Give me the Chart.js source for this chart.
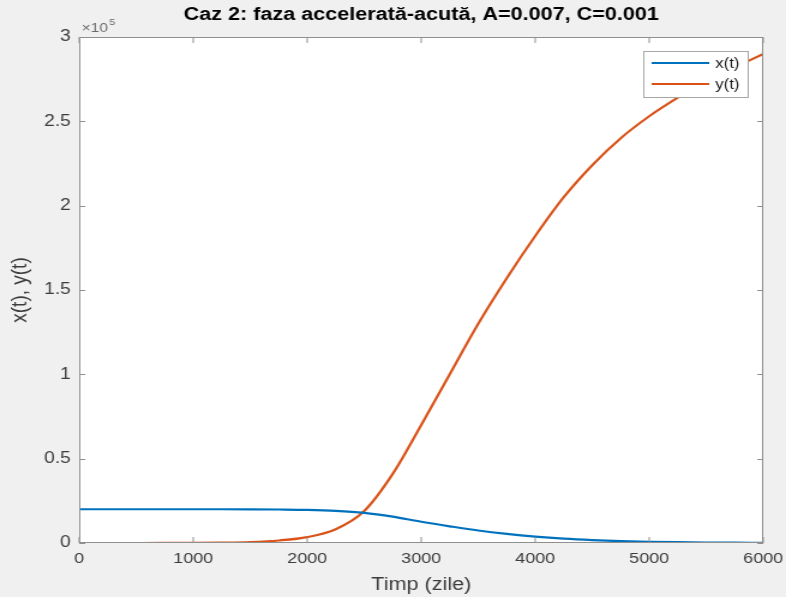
<!DOCTYPE html>
<html>
<head>
<meta charset="utf-8">
<script src="https://cdn.jsdelivr.net/npm/chart.js@4.4.1/dist/chart.umd.min.js"></script>
<style>
  html, body { margin: 0; padding: 0; background: #f0f0f0; }
  canvas { display: block; }
</style>
</head>
<body>
<!-- the drawing surface is rendered narrower and widened on screen, giving the wide lettering -->
<canvas id="chart" width="655" height="597" style="width:786px;height:597px"></canvas>
<script>
// Time axis (days) and the two model populations
const timeDays = [0, 250, 500, 750, 1000, 1250, 1500, 1750, 2000, 2250, 2500, 2750, 3000,
                  3250, 3500, 3750, 4000, 4250, 4500, 4750, 5000, 5250, 5500, 5750, 6000];
const xSeries = [20000, 20000, 20000, 20000, 20000, 20000, 19950, 19850, 19650, 19100, 17900, 15600, 12600,
                 9900, 7400, 5400, 3800, 2600, 1750, 1150, 750, 480, 300, 190, 120];
const ySeries = [0, 0, 10, 30, 90, 250, 600, 1500, 3500, 8200, 19000, 41000, 70000,
                 100000, 130000, 157000, 182000, 205000, 224000, 240000, 253000, 264000, 274000, 282000, 290000];

const seriesNames = ['x(t)', 'y(t)'];
const xTickValues = [0, 1000, 2000, 3000, 4000, 5000, 6000];
const yTickValues = [0, 50000, 100000, 150000, 200000, 250000, 300000];
const yExponent = 5;

const chartTitle = 'Caz 2: faza accelerată-acută, A=0.007, C=0.001';
const xAxisTitle = 'Timp (zile)';
const yAxisTitle = 'x(t), y(t)';

const FONT = '"Liberation Sans", Arial, Helvetica, sans-serif';
const AXIS_GRAY = '#8f8f8f';
const TEXT_GRAY = '#3c3c3c';

const toPoints = (ys) => timeDays.map((t, i) => ({ x: t, y: ys[i] }));

// White plot area behind the curves
const plotBackground = {
  id: 'plotBackground',
  beforeDraw(chart) {
    const { ctx, chartArea: a } = chart;
    ctx.save();
    ctx.fillStyle = '#ffffff';
    ctx.fillRect(a.left, a.top, a.right - a.left, a.bottom - a.top);
    ctx.restore();
  }
};

// Boxed axes with inward ticks on all four sides, legend, title and exponent
const frameAndLabels = {
  id: 'frameAndLabels',
  afterDatasetsDraw(chart) {
    const { ctx, chartArea: a, scales } = chart;
    const xs = scales.x, ys = scales.y;
    ctx.save();
    ctx.strokeStyle = AXIS_GRAY;
    ctx.lineWidth = 1;
    ctx.strokeRect(a.left + 0.5, a.top + 0.5, a.right - a.left - 1, a.bottom - a.top - 1);
    const tlx = 6, tly = 5;
    ctx.beginPath();
    xs.ticks.forEach(tk => {
      const px = xs.getPixelForValue(tk.value);
      ctx.moveTo(px, a.bottom); ctx.lineTo(px, a.bottom - tlx);
      ctx.moveTo(px, a.top); ctx.lineTo(px, a.top + tlx);
    });
    ys.ticks.forEach(tk => {
      const py = Math.round(ys.getPixelForValue(tk.value)) + 0.5;
      ctx.moveTo(a.left, py); ctx.lineTo(a.left + tly, py);
      ctx.moveTo(a.right, py); ctx.lineTo(a.right - tly, py);
    });
    ctx.stroke();

    // Legend (north-east, inside the axes)
    const lx = a.right - 100, ly = a.top + 14, lw = 87, lh = 46;
    ctx.fillStyle = '#ffffff';
    ctx.fillRect(lx, ly, lw, lh);
    ctx.strokeStyle = '#a6a6a6';
    ctx.strokeRect(lx + 0.5, ly + 0.5, lw, lh);
    ctx.font = '14px ' + FONT;
    ctx.textBaseline = 'middle';
    ctx.textAlign = 'left';
    chart.data.datasets.forEach((ds, i) => {
      const ry = ly + 12 + i * 21;
      ctx.strokeStyle = ds.borderColor;
      ctx.lineWidth = 2;
      ctx.beginPath();
      ctx.moveTo(lx + 7, ry); ctx.lineTo(lx + 55, ry);
      ctx.stroke();
      ctx.fillStyle = '#1a1a1a';
      ctx.fillText(ds.label, lx + 60, ry + 1);
    });

    // Title centred over the plot area
    ctx.fillStyle = '#000000';
    ctx.font = 'bold 18px ' + FONT;
    ctx.textAlign = 'center';
    ctx.textBaseline = 'middle';
    ctx.fillText(chartTitle, (a.left + a.right) / 2, 15);

    // Axis exponent label
    ctx.fillStyle = '#6a6a6a';
    ctx.font = '13px ' + FONT;
    ctx.textAlign = 'left';
    ctx.textBaseline = 'alphabetic';
    ctx.fillText('\u00d710', a.left + 2, a.top - 5);
    const w = ctx.measureText('\u00d710').width;
    ctx.font = '9px ' + FONT;
    ctx.fillText(String(yExponent), a.left + 2 + w + 1, a.top - 12);
    ctx.restore();
  }
};

new Chart(document.getElementById('chart'), {
  type: 'line',
  data: {
    datasets: [
      { label: seriesNames[0], data: toPoints(xSeries), borderColor: '#0072BD', borderWidth: 2.2,
        pointRadius: 0, cubicInterpolationMode: 'monotone', fill: false },
      { label: seriesNames[1], data: toPoints(ySeries), borderColor: '#D95319', borderWidth: 2.2,
        pointRadius: 0, cubicInterpolationMode: 'monotone', fill: false }
    ]
  },
  options: {
    responsive: false,
    animation: false,
    events: [],
    devicePixelRatio: 1,
    layout: { padding: { left: 0, top: 37, right: 19, bottom: 3 } },
    plugins: { legend: { display: false }, tooltip: { enabled: false }, title: { display: false } },
    scales: {
      x: {
        type: 'linear', min: 0, max: 6000,
        afterBuildTicks: (s) => { s.ticks = xTickValues.map(v => ({ value: v })); },
        afterFit: (s) => { s.height = 51; s.paddingLeft = 0; s.paddingRight = 0; },
        grid: { display: false, drawTicks: false },
        border: { display: false },
        ticks: { color: TEXT_GRAY, font: { family: FONT, size: 15 }, padding: 7, maxRotation: 0,
                 callback: (v) => String(v) },
        title: { display: true, text: xAxisTitle, color: TEXT_GRAY, font: { family: FONT, size: 18 },
                 padding: { top: 0, bottom: -2 } }
      },
      y: {
        type: 'linear', min: 0, max: 300000,
        afterBuildTicks: (s) => { s.ticks = yTickValues.map(v => ({ value: v })); },
        afterFit: (s) => { s.width = 66; s.paddingTop = 0; s.paddingBottom = 0; },
        grid: { display: false, drawTicks: false },
        border: { display: false },
        ticks: { color: TEXT_GRAY, font: { family: FONT, size: 16 }, padding: 7,
                 callback: (v) => String(v / Math.pow(10, yExponent)) },
        title: { display: true, text: yAxisTitle, color: TEXT_GRAY, font: { family: FONT, size: 19 },
                 padding: { top: 5, bottom: 0 } }
      }
    }
  },
  plugins: [plotBackground, frameAndLabels]
});
</script>
</body>
</html>
